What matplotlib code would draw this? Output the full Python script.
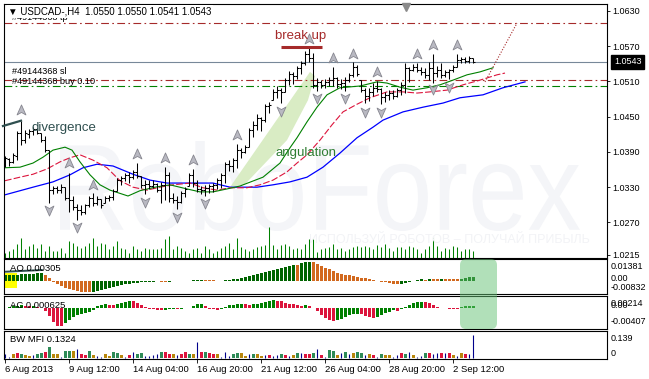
import matplotlib
matplotlib.use("Agg")
import matplotlib.pyplot as plt
import numpy as np
from matplotlib.path import Path
from matplotlib.patches import PathPatch, Polygon, Rectangle, FancyBboxPatch
from matplotlib.textpath import TextPath
from matplotlib.font_manager import FontProperties
from matplotlib.transforms import Affine2D, IdentityTransform, blended_transform_factory

plt.rcParams['font.family'] = ['Liberation Sans', 'DejaVu Sans']

# USDCAD H4 bars, 6 Aug 2013 - 3 Sep 2013
opens = [1.0368, 1.0378, 1.0373, 1.0383, 1.0422, 1.0410, 1.0420, 1.0426, 1.0429, 1.0422,
         1.0410, 1.0393, 1.0325, 1.0329, 1.0325, 1.0330, 1.0312, 1.0308, 1.0296, 1.0291,
         1.0288, 1.0300, 1.0312, 1.0303, 1.0310, 1.0303, 1.0312, 1.0313, 1.0324, 1.0342,
         1.0346, 1.0351, 1.0347, 1.0356, 1.0349, 1.0334, 1.0335, 1.0332, 1.0335, 1.0325,
         1.0334, 1.0351, 1.0312, 1.0308, 1.0305, 1.0320, 1.0332, 1.0351, 1.0337, 1.0327,
         1.0325, 1.0329, 1.0332, 1.0334, 1.0342, 1.0351, 1.0369, 1.0366, 1.0376, 1.0393,
         1.0390, 1.0398, 1.0427, 1.0436, 1.0448, 1.0444, 1.0468, 1.0478, 1.0492, 1.0495,
         1.0492, 1.0512, 1.0522, 1.0519, 1.0533, 1.0541, 1.0556, 1.0550, 1.0504, 1.0509,
         1.0504, 1.0509, 1.0512, 1.0516, 1.0505, 1.0507, 1.0512, 1.0521, 1.0534, 1.0512,
         1.0495, 1.0485, 1.0492, 1.0499, 1.0497, 1.0483, 1.0487, 1.0490, 1.0485, 1.0495,
         1.0504, 1.0533, 1.0529, 1.0534, 1.0529, 1.0526, 1.0521, 1.0533, 1.0524, 1.0529,
         1.0521, 1.0526, 1.0529, 1.0534, 1.0546, 1.0548, 1.0545, 1.0550]
highs = [1.0383, 1.0380, 1.0388, 1.0426, 1.0443, 1.0427, 1.0429, 1.0432, 1.0431, 1.0422,
         1.0417, 1.0393, 1.0332, 1.0332, 1.0335, 1.0330, 1.0354, 1.0315, 1.0301, 1.0300,
         1.0301, 1.0315, 1.0320, 1.0315, 1.0310, 1.0315, 1.0317, 1.0327, 1.0346, 1.0349,
         1.0354, 1.0356, 1.0359, 1.0371, 1.0349, 1.0342, 1.0342, 1.0342, 1.0337, 1.0339,
         1.0364, 1.0356, 1.0320, 1.0315, 1.0324, 1.0330, 1.0354, 1.0361, 1.0342, 1.0332,
         1.0334, 1.0335, 1.0337, 1.0346, 1.0354, 1.0373, 1.0376, 1.0380, 1.0403, 1.0397,
         1.0402, 1.0431, 1.0443, 1.0454, 1.0449, 1.0471, 1.0475, 1.0497, 1.0502, 1.0499,
         1.0516, 1.0528, 1.0526, 1.0536, 1.0545, 1.0562, 1.0568, 1.0558, 1.0516, 1.0512,
         1.0514, 1.0517, 1.0534, 1.0517, 1.0514, 1.0517, 1.0524, 1.0543, 1.0538, 1.0512,
         1.0499, 1.0499, 1.0507, 1.0511, 1.0499, 1.0492, 1.0495, 1.0495, 1.0499, 1.0509,
         1.0541, 1.0534, 1.0539, 1.0541, 1.0534, 1.0533, 1.0543, 1.0556, 1.0536, 1.0541,
         1.0529, 1.0531, 1.0538, 1.0556, 1.0551, 1.0551, 1.0553, 1.0550]
lows = [1.0364, 1.0366, 1.0371, 1.0376, 1.0402, 1.0405, 1.0414, 1.0419, 1.0420, 1.0407,
        1.0390, 1.0303, 1.0318, 1.0320, 1.0320, 1.0308, 1.0288, 1.0291, 1.0274, 1.0283,
        1.0284, 1.0296, 1.0298, 1.0300, 1.0295, 1.0303, 1.0307, 1.0308, 1.0324, 1.0334,
        1.0341, 1.0337, 1.0344, 1.0346, 1.0329, 1.0318, 1.0327, 1.0329, 1.0322, 1.0303,
        1.0308, 1.0305, 1.0303, 1.0293, 1.0303, 1.0313, 1.0332, 1.0330, 1.0322, 1.0318,
        1.0315, 1.0320, 1.0322, 1.0327, 1.0329, 1.0337, 1.0358, 1.0356, 1.0363, 1.0380,
        1.0388, 1.0398, 1.0415, 1.0427, 1.0426, 1.0441, 1.0456, 1.0478, 1.0482, 1.0473,
        1.0492, 1.0504, 1.0505, 1.0514, 1.0522, 1.0538, 1.0543, 1.0499, 1.0494, 1.0499,
        1.0499, 1.0502, 1.0502, 1.0499, 1.0497, 1.0494, 1.0509, 1.0517, 1.0519, 1.0492,
        1.0473, 1.0477, 1.0485, 1.0492, 1.0471, 1.0475, 1.0478, 1.0480, 1.0483, 1.0487,
        1.0490, 1.0509, 1.0528, 1.0526, 1.0521, 1.0516, 1.0512, 1.0507, 1.0517, 1.0516,
        1.0517, 1.0514, 1.0526, 1.0534, 1.0541, 1.0541, 1.0541, 1.0541]
closes = [1.0380, 1.0373, 1.0385, 1.0422, 1.0410, 1.0422, 1.0426, 1.0429, 1.0422, 1.0410,
          1.0393, 1.0325, 1.0329, 1.0325, 1.0330, 1.0312, 1.0308, 1.0296, 1.0291, 1.0288,
          1.0300, 1.0312, 1.0303, 1.0310, 1.0300, 1.0312, 1.0313, 1.0324, 1.0342, 1.0346,
          1.0351, 1.0347, 1.0356, 1.0349, 1.0334, 1.0335, 1.0332, 1.0335, 1.0325, 1.0334,
          1.0351, 1.0312, 1.0308, 1.0305, 1.0320, 1.0327, 1.0351, 1.0337, 1.0327, 1.0325,
          1.0329, 1.0332, 1.0334, 1.0342, 1.0351, 1.0369, 1.0366, 1.0376, 1.0393, 1.0390,
          1.0398, 1.0427, 1.0436, 1.0448, 1.0444, 1.0468, 1.0470, 1.0492, 1.0495, 1.0492,
          1.0512, 1.0522, 1.0519, 1.0533, 1.0541, 1.0556, 1.0550, 1.0504, 1.0509, 1.0504,
          1.0509, 1.0512, 1.0516, 1.0505, 1.0507, 1.0512, 1.0521, 1.0534, 1.0522, 1.0495,
          1.0485, 1.0492, 1.0499, 1.0497, 1.0483, 1.0487, 1.0490, 1.0485, 1.0495, 1.0504,
          1.0533, 1.0529, 1.0534, 1.0529, 1.0526, 1.0521, 1.0533, 1.0524, 1.0529, 1.0521,
          1.0526, 1.0529, 1.0534, 1.0546, 1.0548, 1.0545, 1.0550, 1.0543]
volumes = [1000, 1400, 1800, 2800, 4000, 1800, 2400, 2800, 2000, 2800,
           1400, 2400, 1400, 1400, 2000, 1000, 3400, 3000, 2400, 2000,
           2400, 3000, 4000, 2400, 3000, 2800, 1800, 2400, 3400, 2000,
           1800, 1000, 2400, 1800, 1400, 2000, 1800, 1800, 1800, 2000,
           3800, 4400, 1800, 2400, 2000, 1400, 1000, 1800, 2000, 1000,
           2400, 1800, 1000, 1400, 2000, 2400, 3000, 1800, 4000, 2200,
           1800, 1400, 1800, 2200, 2400, 2600, 6200, 2600, 1800, 2600,
           2800, 2400, 1800, 2000, 1800, 2800, 3800, 3800, 1200, 1800,
           2000, 2200, 2800, 1800, 2000, 1400, 1800, 2200, 2400, 2200,
           2400, 2200, 1800, 2600, 2200, 2800, 2000, 1400, 2200, 2200,
           1800, 2400, 2200, 1800, 1000, 1800, 2400, 4200, 2400, 1400,
           2000, 1800, 2400, 2200, 1400, 1800, 1800, 1400]

# Alligator lines (bar index, price), they run past the last bar
lips_x = [0, 3.75, 7, 9.5, 12, 15, 16.75, 18.75, 21.25, 23.75, 26.25, 30.75, 33.75, 37.5,
          41.25, 45.5, 48.75, 52, 55.5, 58.75, 64.5, 68.75, 71.25, 73, 75.5, 78, 80.5,
          83.75, 88.75, 93, 95.5, 98.75, 102, 105.5, 108.75, 112, 115.5, 118.75, 122]
lips_y = [1.0363, 1.0364, 1.0371, 1.0381, 1.0393, 1.0398, 1.0393, 1.0373, 1.0351, 1.0334,
          1.0325, 1.0315, 1.0324, 1.0330, 1.0334, 1.0327, 1.0322, 1.0322, 1.0327, 1.0332,
          1.0347, 1.0371, 1.0397, 1.0414, 1.0441, 1.0466, 1.0487, 1.0499, 1.0502, 1.0509,
          1.0507, 1.0500, 1.0495, 1.0499, 1.0504, 1.0512, 1.0521, 1.0526, 1.0533]
teeth_x = [0, 3.75, 7, 10.5, 13.75, 16.25, 18.75, 22, 25.5, 28.75, 32, 35.5, 38.75, 42,
           46.25, 49.5, 53, 56.25, 60.5, 63.75, 67, 70.5, 73, 75.5, 78.75, 81.75, 84.5,
           88, 91.25, 95.5, 99.5, 103, 106.25, 110.5, 114.5, 118.75, 123, 125]
teeth_y = [1.0341, 1.0347, 1.0352, 1.0361, 1.0373, 1.0380, 1.0385, 1.0376, 1.0363, 1.0341,
           1.0330, 1.0325, 1.0330, 1.0334, 1.0337, 1.0329, 1.0325, 1.0329, 1.0329, 1.0334,
           1.0342, 1.0356, 1.0371, 1.0385, 1.0410, 1.0436, 1.0458, 1.0471, 1.0482, 1.0492,
           1.0492, 1.0490, 1.0492, 1.0495, 1.0504, 1.0512, 1.0521, 1.0524]
jaw_x = [0, 7, 12, 16.25, 19.5, 23, 27, 32, 36.25, 40.5, 45.5, 52, 56.25, 63, 67, 71.25,
         75.5, 79.5, 83.75, 88, 92, 94.5, 99.5, 104.5, 109.5, 113.75, 119.5, 124.5, 130]
jaw_y = [1.0317, 1.0330, 1.0339, 1.0351, 1.0363, 1.0369, 1.0366, 1.0352, 1.0342, 1.0337,
         1.0337, 1.0337, 1.0330, 1.0330, 1.0334, 1.0339, 1.0347, 1.0364, 1.0388, 1.0414,
         1.0432, 1.0444, 1.0458, 1.0466, 1.0473, 1.0482, 1.0487, 1.0499, 1.0509]

# fractal arrows
frac_up_x = [4, 16, 22, 33, 40, 47, 58, 76, 82, 87, 93, 103, 107, 113]
frac_up_y = [1.0461, 1.0371, 1.0334, 1.0386, 1.0380, 1.0376, 1.0419, 1.0582, 1.0550,
             1.0556, 1.0526, 1.0556, 1.0572, 1.0572]
frac_dn_x = [11, 18, 35, 43, 50, 69, 78, 85, 90, 94, 107, 111]
frac_dn_y = [1.0291, 1.0262, 1.0305, 1.0279, 1.0303, 1.0460, 1.0482, 1.0482, 1.0458,
             1.0458, 1.0497, 1.0500]

# Awesome oscillator, Accelerator oscillator, BW MFI
ao = [0.00402, 0.00423, 0.00438, 0.00460, 0.00482, 0.00504, 0.00518, 0.00533, 0.00548, 0.00555,
      0.00402, 0.00219, -0.00073, -0.00219, -0.00365, -0.00511, -0.00584, -0.00657, -0.00730,
      -0.00788, -0.00818, -0.00832,
      -0.00803, -0.00730, -0.00657, -0.00584, -0.00511, -0.00438, -0.00365, -0.00292, -0.00234,
      -0.00183, -0.00146, -0.00110,
      -0.00073, -0.00058, -0.00044, -0.00037, -0.00029, -0.00037, -0.00044, -0.00037, -0.00022,
      -0.00015, -0.00022, -0.00015,
      0.00015, 0.00037, 0.00058, 0.00073, 0.00066, 0.00051, 0.00037, 0.00022, 0.00029, 0.00051,
      0.00073, 0.00117, 0.00168, 0.00219, 0.00277, 0.00336, 0.00402, 0.00475, 0.00548, 0.00621,
      0.00701,
      0.00788, 0.00876, 0.00964, 0.01044, 0.01117, 0.01183,
      0.01168, 0.01299, 0.01358, 0.01381,
      0.01351, 0.01241, 0.01095, 0.00964, 0.00840, 0.00715, 0.00606, 0.00526, 0.00460, 0.00402,
      0.00336, 0.00277,
      0.00226, 0.00190, 0.00146, 0.00088, 0.00029, -0.00037, -0.00088, -0.00139, -0.00183,
      -0.00219,
      -0.00204, -0.00146, -0.00073, 0.00022, 0.00066, 0.00110, 0.00102, 0.00139, 0.00131,
      0.00124,
      0.00146, 0.00139, 0.00131, 0.00124, 0.00117, 0.00175, 0.00219, 0.00256, 0.00305]
ac = [0.00011, 0.00023, 0.00045, 0.00057, 0.00068, 0.00057, 0.00045, 0.00057, 0.00034, 0.00011,
      -0.00068, -0.00181, -0.00316, -0.00400, -0.00407, -0.00339, -0.00271, -0.00203, -0.00158,
      -0.00136, -0.00113, -0.00090, -0.00045,
      0.00045, 0.00068, 0.00090, 0.00079, 0.00075, 0.00102, 0.00113, 0.00136, 0.00165, 0.00158,
      0.00124, 0.00068, 0.00023,
      -0.00011, -0.00023, -0.00034, -0.00045, -0.00034, -0.00023, -0.00011, -0.00016, -0.00007,
      0.00011, 0.00007,
      0.00045, 0.00090, 0.00102, 0.00045, -0.00005, -0.00023, -0.00045, -0.00023,
      0.00034, 0.00068, 0.00079, 0.00090, 0.00102, 0.00090, 0.00079, 0.00090, 0.00102, 0.00124,
      0.00136, 0.00158, 0.00181,
      0.00170, 0.00154, 0.00124, 0.00108, 0.00095, 0.00072, 0.00059, 0.00068, 0.00045, 0.00011,
      -0.00068,
      -0.00158, -0.00215, -0.00271, -0.00294, -0.00271, -0.00237, -0.00203, -0.00158, -0.00136,
      -0.00124, -0.00140, -0.00170, -0.00203, -0.00226,
      -0.00203, -0.00147, -0.00113, -0.00079, -0.00045, -0.00052, -0.00016,
      0.00034, 0.00068, 0.00113, 0.00136, 0.00151, 0.00147, 0.00113, 0.00079, 0.00038, 0.00011,
      0.00007, -0.00011, -0.00014, -0.00016, 0.00023, 0.00045, 0.00052, 0.000625]
mfi = [0.0230, 0.0058, 0.0248, 0.0328, 0.0248, 0.0190, 0.0132, 0.0190, 0.0230, 0.0288,
       0.0386, 0.0674, 0.0248, 0.0248, 0.0098, 0.0444, 0.0444, 0.0420, 0.0536, 0.0230,
       0.0190, 0.0444, 0.0190, 0.0132, 0.0098, 0.0248, 0.0156, 0.0346, 0.0288, 0.0190,
       0.0098, 0.0190, 0.0386, 0.0248, 0.0288, 0.0132, 0.0156, 0.0190, 0.0230, 0.0386,
       0.0346, 0.0248, 0.0248, 0.0190, 0.0230, 0.0346, 0.0271, 0.0230, 0.0922, 0.0386,
       0.0386, 0.0288, 0.0271, 0.0271, 0.0098, 0.0386, 0.0132, 0.0271, 0.0288, 0.0288,
       0.0156, 0.0230, 0.0271, 0.0230, 0.0156, 0.0190, 0.0190, 0.0132, 0.0190, 0.0230,
       0.0190, 0.0132, 0.0190, 0.0288, 0.0288, 0.0230, 0.0230, 0.0328, 0.0518, 0.0190,
       0.0098, 0.0461, 0.0403, 0.0190, 0.0288, 0.0386, 0.0230, 0.0288, 0.0346, 0.0288,
       0.0173, 0.0248, 0.0190, 0.0098, 0.0248, 0.0190, 0.0190, 0.0098, 0.0190, 0.0288,
       0.0248, 0.0386, 0.0190, 0.0098, 0.0132, 0.0288, 0.0328, 0.0230, 0.0328, 0.0328,
       0.0328, 0.0288, 0.0190, 0.0115, 0.0328, 0.0248, 0.0230, 0.1324]
# g = MFI up / volume up, b = fade, r = squat, u = fake
mfi_kind = ("uubrgbbugg" "rgbbuggbur" "rgbuubbggb" "urugguuuug" "rrburrgbur"
            "grrbuuuggb" "bugbburuug" "rubgurrgur" "uggbugubgg" "ubrugbbuur"
            "gubuugruur" "urbubruu")

date_idx = [0, 16, 32, 48, 64, 80, 96, 112]
date_labels = ["6 Aug 2013", "9 Aug 12:00", "14 Aug 04:00", "16 Aug 20:00",
               "21 Aug 12:00", "26 Aug 04:00", "28 Aug 20:00", "2 Sep 12:00"]
price_ticks = [1.0630, 1.0570, 1.0510, 1.0450, 1.0390, 1.0330, 1.0270, 1.0215]
tp_price, sl_price, buy_price, last_price = 1.0609, 1.0513, 1.0502, 1.0543

W, H = 649, 379
fig = plt.figure(figsize=(W / 100, H / 100), dpi=100)
fig.patch.set_facecolor('white')


def px_rect(x0, y0, x1, y1):
    return [x0 / W, 1 - y1 / H, (x1 - x0) / W, (y1 - y0) / H]


XL = (-0.25, 150.5)
idx = np.arange(len(highs))

# volume + watermark underneath the price chart
ax_vol = fig.add_axes(px_rect(4, 4, 607, 258))
ax_vol.set_xlim(*XL)
ax_vol.set_ylim(0, 50800)
ax_vol.set_axis_off()
ax_vol.vlines(idx, 0, volumes, color='#008000', lw=0.75)

tpath = TextPath((0, 0), "RoboForex", size=100, prop=FontProperties(family='Liberation Sans'))
bb = tpath.get_extents()
wm_tr = Affine2D().translate(-bb.x0, -bb.y0).scale(520 / bb.width, 90 / bb.height).translate(60, H - 231)
ax_vol.add_patch(PathPatch(tpath, transform=wm_tr, fc='#f4f5f8', ec='none', zorder=0, clip_on=False))
fig.text(590 / W, 1 - 240 / H, "ИСПОЛЬЗУЙ РОБОТОВ – ПОЛУЧАЙ ПРИБЫЛЬ", ha='right', va='center',
         fontsize=9, color='#f2f3f6', zorder=0.5)

ax = fig.add_axes(px_rect(4, 4, 607, 258))
ax.patch.set_alpha(0)
ax.set_xlim(*XL)
ax.set_ylim(1.02096, 1.06414)
for s in ax.spines.values():
    s.set_linewidth(0.8)
ax.tick_params(axis='x', bottom=False, labelbottom=False)
ax.yaxis.tick_right()
ax.set_yticks(price_ticks)
ax.set_yticklabels([f"{p:.4f}" for p in price_ticks])
ax.tick_params(axis='y', direction='out', length=2.2, width=0.6, pad=1.4, labelsize=6.5)

# order lines
ax.axhline(tp_price, color='#a52a2a', lw=0.8, dashes=(7, 3, 1.5, 3))
ax.axhline(sl_price, color='#a52a2a', lw=0.8, dashes=(7, 3, 1.5, 3))
ax.axhline(buy_price, color='#008000', lw=0.8, dashes=(7, 3, 1.5, 3))
ax.axhline(last_price, color='#778899', lw=0.8)

# angulation wedge
wedge_x = [56.25, 76.25, 77.5, 75.75, 70.5, 60]
wedge_y = [1.0330, 1.0526, 1.0519, 1.0478, 1.0410, 1.0335]
ax.add_patch(Polygon(list(zip(wedge_x, wedge_y)), closed=True, fc='#d9ecc4', ec='none', zorder=1))

# alligator
ax.plot(jaw_x, jaw_y, color='#0000ff', lw=0.9, zorder=2, clip_on=False)
ax.plot(teeth_x, teeth_y, color='#dc143c', lw=0.8, dashes=(6, 2), zorder=2)
ax.plot(lips_x, lips_y, color='#008000', lw=0.8, zorder=2)
# projected move
ax.plot([120, 128], [1.0509, 1.0609], color='#a52a2a', lw=0.8, ls=(0, (1, 1.5)), zorder=2)

# OHLC bars
ax.vlines(idx, lows, highs, color='black', lw=0.75, zorder=3)
ax.hlines(opens, idx - 0.45, idx, color='black', lw=0.75, zorder=3)
ax.hlines(closes, idx, idx + 0.45, color='black', lw=0.75, zorder=3)

# fractal arrows
up_marker = Path([(0, 1), (0.8, -0.8), (0, -0.35), (-0.8, -0.8), (0, 1)],
                 [Path.MOVETO, Path.LINETO, Path.LINETO, Path.LINETO, Path.CLOSEPOLY])
dn_marker = Path([(0, -1), (0.8, 0.8), (0, 0.35), (-0.8, 0.8), (0, -1)],
                 [Path.MOVETO, Path.LINETO, Path.LINETO, Path.LINETO, Path.CLOSEPOLY])
ax.plot(frac_up_x, frac_up_y, ls='none', marker=up_marker, ms=8, mfc='#b9b9c2', mec='#86868f',
        mew=0.6, zorder=4)
ax.plot(frac_dn_x, frac_dn_y, ls='none', marker=dn_marker, ms=8, mfc='#b9b9c2', mec='#86868f',
        mew=0.6, zorder=4)

# annotations
ax.text(74, 1.0587, "break up", color='#a52a2a', fontsize=9.5, ha='center', va='center', zorder=5)
ax.plot([69, 79.25], [1.0568, 1.0568], color='#a52a2a', lw=2.2, solid_capstyle='butt', zorder=5)
ax.text(6.75, 1.0431, "divergence", color='#2f4f4f', fontsize=9.5, ha='left', va='center', zorder=5)
ax.plot([-0.5, 4.0], [1.0434, 1.0443], color='#2f4f4f', lw=1.6, zorder=5, clip_on=False)
ax.text(67.5, 1.0388, "angulation", color='#2e7d32', fontsize=9.5, ha='left', va='center', zorder=5)
ax.text(1.75, 1.0619, "#49144368 tp", fontsize=6.6, ha='left', va='center', zorder=5)
ax.text(1.75, 1.0526, "#49144368 sl", fontsize=6.6, ha='left', va='center', zorder=5)
ax.text(1.75, 1.0510, "#49144368 buy 0.10", fontsize=6.6, ha='left', va='center', zorder=5)
fig.text(8 / W, 1 - 11.5 / H, "▼ USDCAD-,H4  1.0550 1.0550 1.0541 1.0543", fontsize=7,
         ha='left', va='center', zorder=6,
         bbox=dict(boxstyle='square,pad=0.15', fc='white', ec='none'))
ax.plot([(406 - 5) / 4], [1.0637], marker='v', ms=5.5, color='#8a8a8a', clip_on=False, zorder=6)

# last price box
rt = blended_transform_factory(ax.transAxes, ax.transData)
ax.text(1 + 7 / 603, last_price, f"{last_price:.4f}", transform=rt, fontsize=6.5, color='white',
        ha='left', va='center', clip_on=False, zorder=7,
        bbox=dict(boxstyle='square,pad=0.3', fc='black', ec='black'))


def sub_axes(y0, y1, lo, hi):
    a = fig.add_axes(px_rect(4, y0, 607, y1))
    a.set_xlim(*XL)
    a.set_ylim(lo, hi)
    a.set_xticks([])
    a.set_yticks([])
    for s in a.spines.values():
        s.set_linewidth(0.8)
    return a


def right_label(a, y, s, va):
    tr = blended_transform_factory(a.transAxes, a.transData)
    a.text(1 + 4 / 603, y, s, transform=tr, fontsize=6.5, ha='left', va=va, clip_on=False)


# AO
ax_ao = sub_axes(259, 294, -0.00949, 0.01606)
ao_arr = np.array(ao)
ao_up = np.r_[True, ao_arr[1:] > ao_arr[:-1]]
ax_ao.add_patch(Rectangle((-0.05, -0.00533), 2.95, 0.01095, fc='#ffff00', ec='none', zorder=0.5))
ax_ao.bar(idx, ao_arr, width=0.75, color=np.where(ao_up, '#006400', '#d2691e'), lw=0, zorder=1)
ax_ao.plot([0.25, 9.2], [0.00679, 0.00803], color='#2f4f4f', lw=1.4, zorder=2)
ax_ao.text(6 / 603, 0.74, "AO 0.00305", transform=ax_ao.transAxes, fontsize=6.8, va='center', zorder=3)
right_label(ax_ao, 0.01381, "0.01381", 'top')
right_label(ax_ao, 0.0, "0.00", 'baseline')
right_label(ax_ao, -0.00832, "-0.00832", 'bottom')

# AC
ax_ac = sub_axes(296, 329, -0.00468, 0.00278)
ac_arr = np.array(ac)
ac_up = np.r_[True, ac_arr[1:] > ac_arr[:-1]]
ax_ac.bar(idx, ac_arr, width=0.75, color=np.where(ac_up, '#008000', '#dc143c'), lw=0)
ax_ac.text(6 / 603, 0.70, "AC 0.000625", transform=ax_ac.transAxes, fontsize=6.8, va='center', zorder=3)
right_label(ax_ac, 0.00214, "0.00214", 'top')
right_label(ax_ac, 0.0, "0.00", 'baseline')
right_label(ax_ac, -0.00407, "-0.00407", 'bottom')

# BW MFI
ax_mfi = sub_axes(331, 359, -0.004, 0.1572)
kind = np.array(list(mfi_kind))
mfi_arr = np.array(mfi)
kind_col = {'g': '#2e8b57', 'b': '#b8860b', 'r': '#dc143c'}
for k, c in kind_col.items():
    m = kind == k
    ax_mfi.bar(idx[m], mfi_arr[m], width=0.75, color=c, lw=0)
m = kind == 'u'
ax_mfi.vlines(idx[m], 0, mfi_arr[m], color='#00008b', lw=0.8)
ax_mfi.text(6 / 603, 0.68, "BW MFI 0.1324", transform=ax_mfi.transAxes, fontsize=6.8, va='center')
right_label(ax_mfi, 0.139, "0.139", 'top')
right_label(ax_mfi, 0.0, "0", 'bottom')
ax_mfi.set_xticks(date_idx)
ax_mfi.set_xticklabels(date_labels, ha='left')
ax_mfi.tick_params(axis='x', direction='out', length=3, width=0.6, pad=1.2, labelsize=6.8)

# highlight box across AO/AC
fig.add_artist(FancyBboxPatch((460, H - 329), 37, 70, boxstyle='round,pad=0,rounding_size=6',
                              transform=IdentityTransform(), fc='#65c375', ec='none', alpha=0.5,
                              zorder=5))

fig.savefig('out.png', dpi=100)
